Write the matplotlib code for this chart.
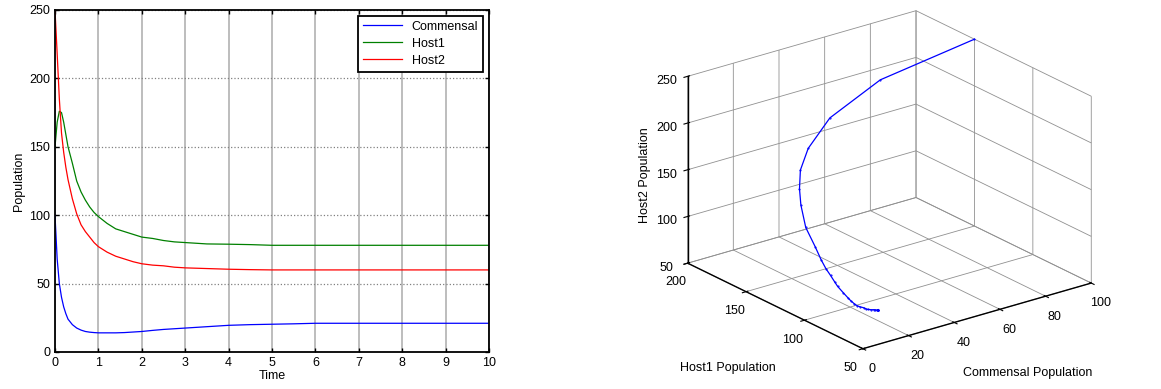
import numpy as np
import matplotlib
matplotlib.use('Agg')
import matplotlib.pyplot as plt
from mpl_toolkits.mplot3d import Axes3D  # noqa

plt.rcParams['font.family'] = ['Liberation Sans', 'DejaVu Sans']
plt.rcParams['font.size'] = 9

# ------------------------------------------------------------------ #
# Dados

t = [0, 0.05, 0.1, 0.15, 0.2, 0.25, 0.3, 0.4, 0.5, 0.6, 0.7, 0.8, 0.9, 1.0,
     1.2, 1.4, 1.6, 1.8, 2.0, 2.25, 2.5, 2.75, 3.0, 3.5, 4.0, 4.5, 5.0,
     5.5, 6.0, 7.0, 8.0, 9.0, 10.0]

commensal = [100, 68, 50, 40, 33, 28, 24, 20, 17.5, 16, 15, 14.5, 14.2, 14,
             14, 14, 14.2, 14.6, 15, 15.8, 16.5, 17, 17.5, 18.5, 19.5, 20,
             20.3, 20.6, 21, 21, 21, 21, 21]

host1 = [150, 168, 176, 175, 168, 159, 150, 138, 125, 117, 111, 106, 102, 99,
         94, 90, 88, 86, 84, 83, 81.5, 80.5, 80, 79, 78.8, 78.5, 78,
         78, 78, 78, 78, 78, 78]

host2 = [250, 218, 185, 160, 146, 135, 126, 112, 101, 93, 88, 84, 80, 77,
         73, 70, 68, 66, 64.5, 63.5, 63, 62, 61.5, 61, 60.5, 60.2, 60,
         60, 60, 60, 60, 60, 60]

fig = plt.figure(figsize=(11.61, 3.89), dpi=100)

# ------------------------------------------------------------------ #
# Series temporais

ax = fig.add_axes([55/1161, 37/389, 434/1161, 342/389])
ax.plot(t, commensal, color='blue', lw=0.9, label='Commensal')
ax.plot(t, host1, color='green', lw=0.9, label='Host1')
ax.plot(t, host2, color='red', lw=0.9, label='Host2')
ax.set_xlim(0, 10)
ax.set_ylim(0, 250)
ax.set_xticks(range(0, 11))
ax.set_yticks(range(0, 251, 50))
ax.xaxis.grid(True, color='#bdbdbd', ls='-', lw=1.4)
ax.yaxis.grid(True, color='#808080', ls=':', lw=0.9)
ax.set_axisbelow(True)
ax.tick_params(direction='in', top=True, right=True, length=3, width=1, pad=3.5)
for s in ax.spines.values():
    s.set_linewidth(1.3)
ax.set_xlabel('Time', labelpad=1)
ax.set_ylabel('Population', labelpad=3)
leg = ax.legend(loc='upper right', fancybox=False, edgecolor='black',
                framealpha=1, borderaxespad=0.45, handlelength=3.1,
                labelspacing=0.4, fontsize=9)
leg.get_frame().set_linewidth(1.3)

# ------------------------------------------------------------------ #
# Trajetoria 3D

ax3 = fig.add_axes([0.5314, 0.004, 0.46, 1.04], projection='3d')
ax3.set_proj_type('ortho')
ax3.view_init(elev=22, azim=-127.5)
ax3.set_box_aspect((1, 1, 0.7), zoom=1.09)
ax3.plot(commensal, host1, host2, color='blue', lw=0.9, marker='.', ms=1)
ax3.set_xlim(0, 100)
ax3.set_ylim(50, 200)
ax3.set_zlim(50, 250)
ax3.set_xticks(range(0, 101, 20))
ax3.set_yticks(range(50, 201, 50))
ax3.set_zticks(range(50, 251, 50))
for a in (ax3.xaxis, ax3.yaxis, ax3.zaxis):
    a.set_pane_color((1, 1, 1, 0))
    a.pane.set_edgecolor('#808080')
    a._axinfo['grid'].update(color='#909090', linewidth=0.6, linestyle='-')
    a.line.set_linewidth(1.0)
ax3.tick_params(pad=0, labelsize=9)

# rotulos dos eixos 3D na horizontal, como no original
fig.text(728/1161, 1 - 368/389, 'Host1 Population', ha='center', va='center')
fig.text(1028/1161, 1 - 373/389, 'Commensal Population', ha='center', va='center')
fig.text(645/1161, 1 - 175/389, 'Host2 Population', ha='center', va='center',
         rotation=90)

fig.savefig('out.png', dpi=100)
